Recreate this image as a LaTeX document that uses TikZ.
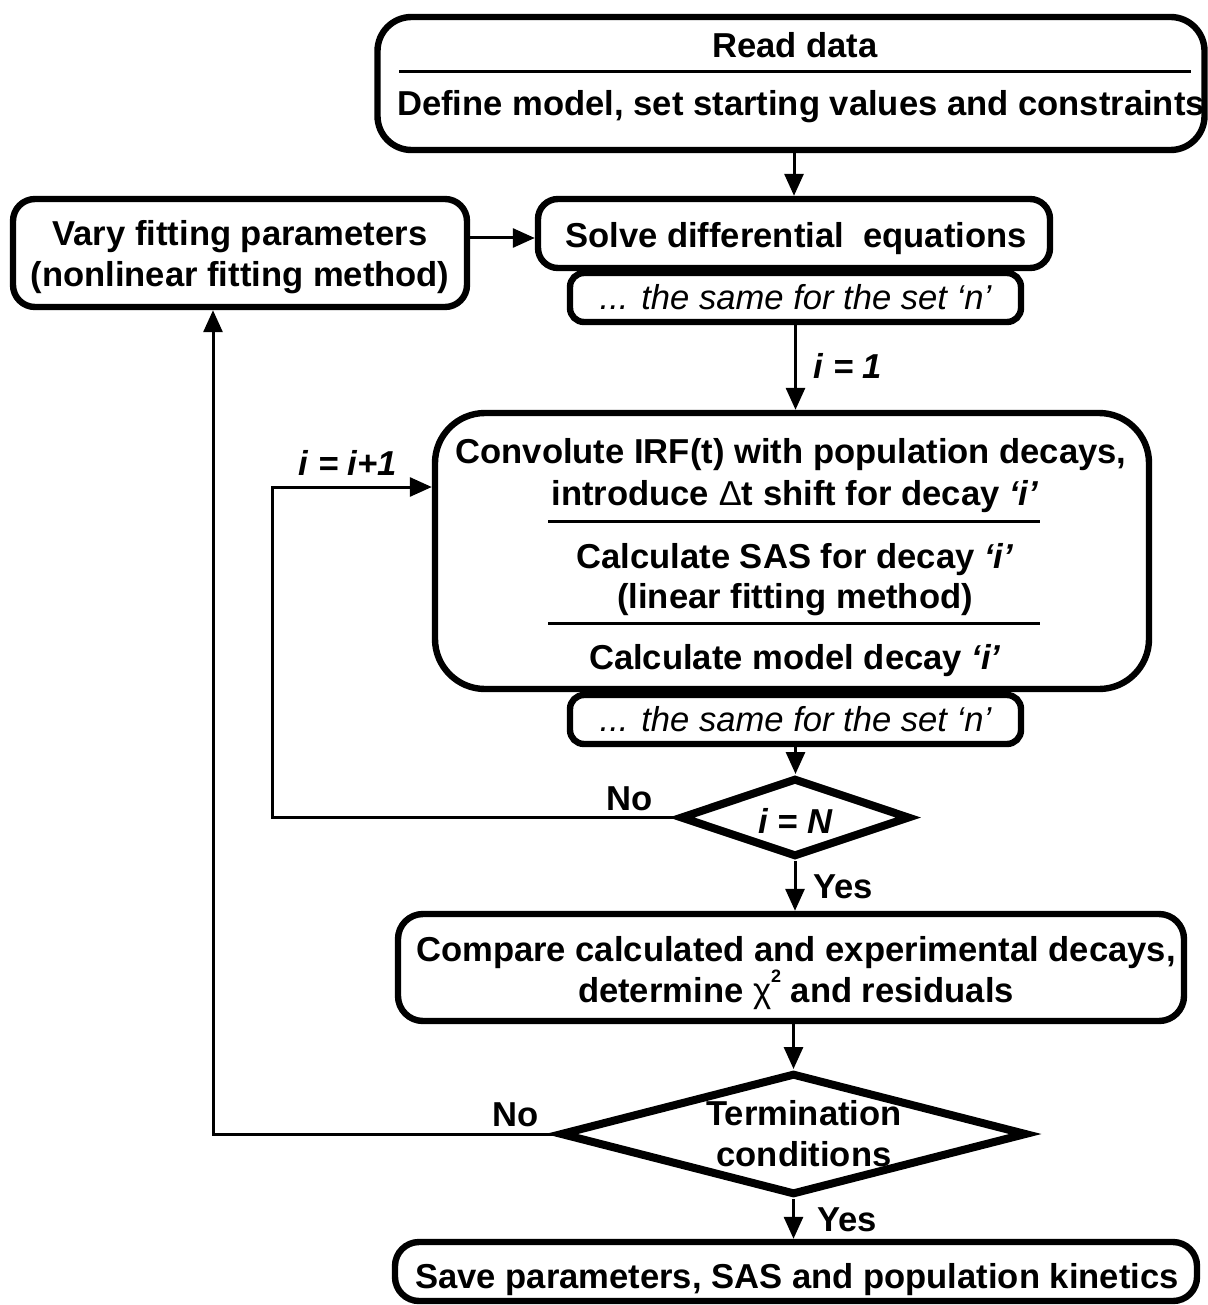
\documentclass[tikz,border=0pt]{standalone}
\usepackage{fontspec}
\setmainfont{Liberation Sans}
\usetikzlibrary{arrows.meta,shapes.geometric}

\tikzset{
    frame/.style={draw, fill=white, line width=3.2pt, rounded corners=#1, inner sep=0pt, align=center},
    decision/.style={draw, diamond, line width=4pt, inner sep=0pt},
    txt/.style={font=\fontsize{17.3pt}{20.5pt}\selectfont\bfseries, align=center},
    note/.style={font=\fontsize{17.3pt}{20.5pt}\selectfont\itshape},
    divider/.style={line width=1.5pt},
    arrow/.style={line width=1.5pt, -{Triangle[length=11pt, width=9.5pt]}},
    wire/.style={line width=1.3pt}
}

\begin{document}
\begin{tikzpicture}[x=0.5pt, y=-0.5pt]
    \useasboundingbox (0,0) rectangle (1208,1305);
    % Boxes and text:
    \node[frame=17pt, minimum width=413.5pt, minimum height=66.5pt] (top) at (791,83.5){};
    \node[txt] (readdata) at (795,45){Read data};
    \node[txt] (define) at (801,107){Define model, set starting values and constraints};
    \draw[divider] (399,72) -- (1191,72);

    \node[frame=11pt, minimum width=227pt, minimum height=54pt] (vary) at (240,253){};
    \node[txt] (varytxt) at (240,257){Vary fitting parameters\\(nonlinear fitting method)};
    \node[frame=10pt, minimum width=256pt, minimum height=34.5pt] (solve) at (794,233.5){};
    \node[txt] (solvetxt) at (796,238.5){Solve differential\ \ equations};
    \node[frame=7pt, note, minimum width=225.5pt, minimum height=24.5pt] (small1) at (795.5,297.5){... the same for the set ‘n’};

    \node[frame=25pt, minimum width=357pt, minimum height=138pt] (conv) at (792,551){};
    \node[txt] (conva) at (791,455){Convolute IRF(t) with population decays,};
    \node[txt] (convb) at (795,497){introduce \textmd{Δ}t shift for decay \textit{‘i’}};
    \node[txt] (sasa) at (795,559.5){Calculate SAS for decay \textit{‘i’}};
    \node[txt] (sasb) at (795,599.5){(linear fitting method)};
    \node[txt] (model) at (795,660.5){Calculate model decay \textit{‘i’}};
    \draw[divider] (548,521) -- (1040,521);
    \draw[divider] (548,623) -- (1040,623);
    \node[frame=7pt, note, minimum width=225.5pt, minimum height=24.5pt] (small2) at (795.5,719.5){... the same for the set ‘n’};

    \node[decision, minimum width=115pt, minimum height=39.5pt] (dia1) at (795,817.5){};
    \node[txt] (dia1txt) at (796,821){\textit{i = N}};

    \node[frame=12.5pt, minimum width=393pt, minimum height=53.5pt] (compare) at (791,967.5){};
    \node[txt] (comparetxt) at (796,973.5){Compare calculated and experimental decays,\\determine \textmd{χ}\raisebox{1.1ex}{\fontsize{9pt}{9pt}\selectfont 2} and residuals};

    \node[decision, minimum width=233.5pt, minimum height=61pt] (dia2) at (793.5,1134){};
    \node[txt] (dia2txt) at (804,1134){Termination\\conditions};

    \node[frame=12pt, minimum width=401pt, minimum height=29.5pt] (save) at (796,1271.5){};
    \node[txt] (savetxt) at (797,1279.5){Save parameters, SAS and population kinetics};

    % Labels:
    \node[txt] (ione) at (848,366){\textit{i = 1}};
    \node[txt] (inext) at (348,463){\textit{i = i+1}};
    \node[txt] (noa) at (630,799){No};
    \node[txt] (yesa) at (843,887){Yes};
    \node[txt] (nob) at (516,1115){No};
    \node[txt] (yesb) at (847,1220){Yes};

    % Arrows:
    \coordinate (loopx) at (272,487);
    \coordinate (backx) at (213,0);
    \draw[arrow] (top.south -| solve.north) -- (solve.north);
    \draw[arrow] (vary.east |- 0,238) -- (solve.west |- 0,238);
    \draw[arrow] (small1.south) -- (small1.south |- conv.north);
    \draw[arrow] (small2.south) -- (small2.south |- dia1.north);
    \draw[wire, arrow] (dia1.west) -| (loopx) -- (loopx -| conv.west);
    \draw[arrow] (dia1.south) -- (dia1.south |- compare.north);
    \draw[arrow] (compare.south -| dia2.north) -- (dia2.north);
    \draw[wire, arrow] (dia2.west) -| (backx |- vary.south);
    \draw[arrow] (dia2.south) -- (dia2.south |- save.north);
\end{tikzpicture}
\end{document}
